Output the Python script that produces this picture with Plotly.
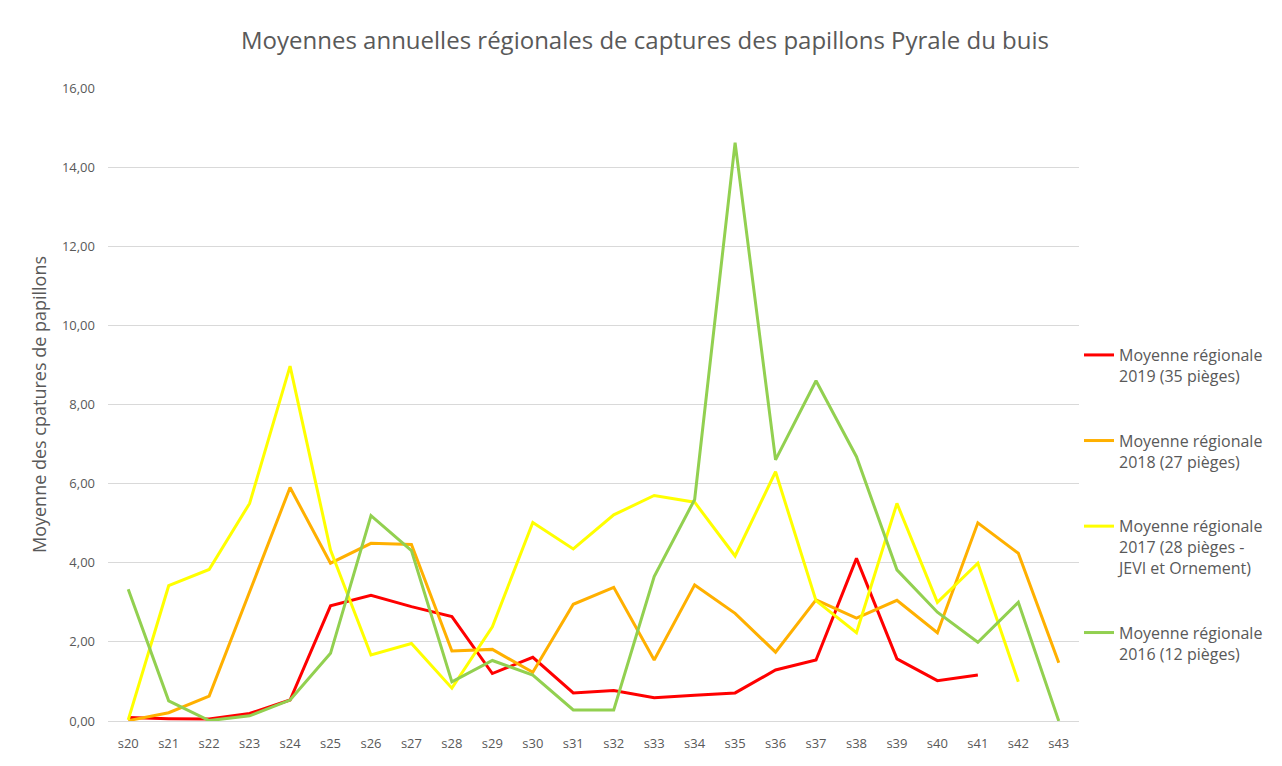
import plotly.graph_objects as go

weeks = ["s20", "s21", "s22", "s23", "s24", "s25", "s26", "s27", "s28", "s29", "s30", "s31",
         "s32", "s33", "s34", "s35", "s36", "s37", "s38", "s39", "s40", "s41", "s42", "s43"]

moy_2019 = [0.09, 0.06, 0.05, 0.19, 0.53, 2.91, 3.18, 2.89, 2.64, 1.20, 1.61, 0.71,
            0.77, 0.59, 0.65, 0.71, 1.29, 1.54, 4.11, 1.57, 1.02, 1.16]
moy_2018 = [0.01, 0.21, 0.63, 3.25, 5.90, 3.99, 4.49, 4.46, 1.77, 1.81, 1.23, 2.95,
            3.38, 1.54, 3.44, 2.72, 1.74, 3.06, 2.60, 3.05, 2.23, 5.01, 4.24, 1.47]
moy_2017 = [0.03, 3.42, 3.83, 5.50, 8.97, 4.32, 1.67, 1.96, 0.83, 2.38, 5.02, 4.35,
            5.21, 5.70, 5.53, 4.17, 6.30, 3.04, 2.23, 5.50, 3.00, 3.99, 0.99]
moy_2016 = [3.33, 0.51, 0.01, 0.13, 0.53, 1.71, 5.19, 4.31, 0.99, 1.53, 1.16, 0.28,
            0.28, 3.65, 5.60, 14.62, 6.60, 8.60, 6.68, 3.82, 2.75, 1.99, 3.00, 0.00]

series = [
    ("Moyenne régionale<br>2019 (35 pièges)", moy_2019, "#FF0000"),
    ("Moyenne régionale<br>2018 (27 pièges)", moy_2018, "#FFB000"),
    ("Moyenne régionale<br>2017 (28 pièges -<br>JEVI et Ornement)", moy_2017, "#FFFF00"),
    ("Moyenne régionale<br>2016 (12 pièges)", moy_2016, "#92D050"),
]

fig = go.Figure()
for i, (name, vals, col) in enumerate(series):
    fig.add_trace(go.Scatter(
        x=weeks[:len(vals)], y=vals, name=name, mode="lines",
        line=dict(color=col, width=3), legendgroup=f"g{i}",
    ))

font_fam = "Open Sans, Liberation Sans, sans-serif"
fig.update_layout(
    width=1274, height=758,
    margin=dict(l=100, r=199, t=80, b=45),
    paper_bgcolor="white", plot_bgcolor="white",
    separators=", ",
    font=dict(family=font_fam, color="#595959", size=13),
    title=dict(text="Moyennes annuelles régionales de captures des papillons Pyrale du buis",
               x=0.5, xanchor="center", y=0.957, yanchor="middle",
               font=dict(size=24, color="#595959", family=font_fam)),
    xaxis=dict(type="category", categoryorder="array", categoryarray=weeks,
               range=[-0.5, 23.5], showgrid=False, showline=True,
               linecolor="#D9D9D9", linewidth=1, ticks="", ticklabelstandoff=10,
               tickfont=dict(size=13, color="#595959")),
    yaxis=dict(range=[0, 16], tickvals=[0, 2, 4, 6, 8, 10, 12, 14, 16], tickformat=".2f",
               showgrid=True, gridcolor="#D9D9D9", gridwidth=1, zeroline=False,
               showline=False, ticks="", ticklabelstandoff=12,
               tickfont=dict(size=13, color="#595959"),
               title=dict(text="Moyenne des cpatures de papillons",
                          font=dict(size=18, color="#595959"), standoff=10)),
    legend=dict(x=1.0, xanchor="left", y=0.605, yanchor="top",
                font=dict(size=16, color="#595959"),
                tracegroupgap=41, valign="top", itemwidth=30,
                bgcolor="rgba(0,0,0,0)"),
)

fig.write_html("out.html")
